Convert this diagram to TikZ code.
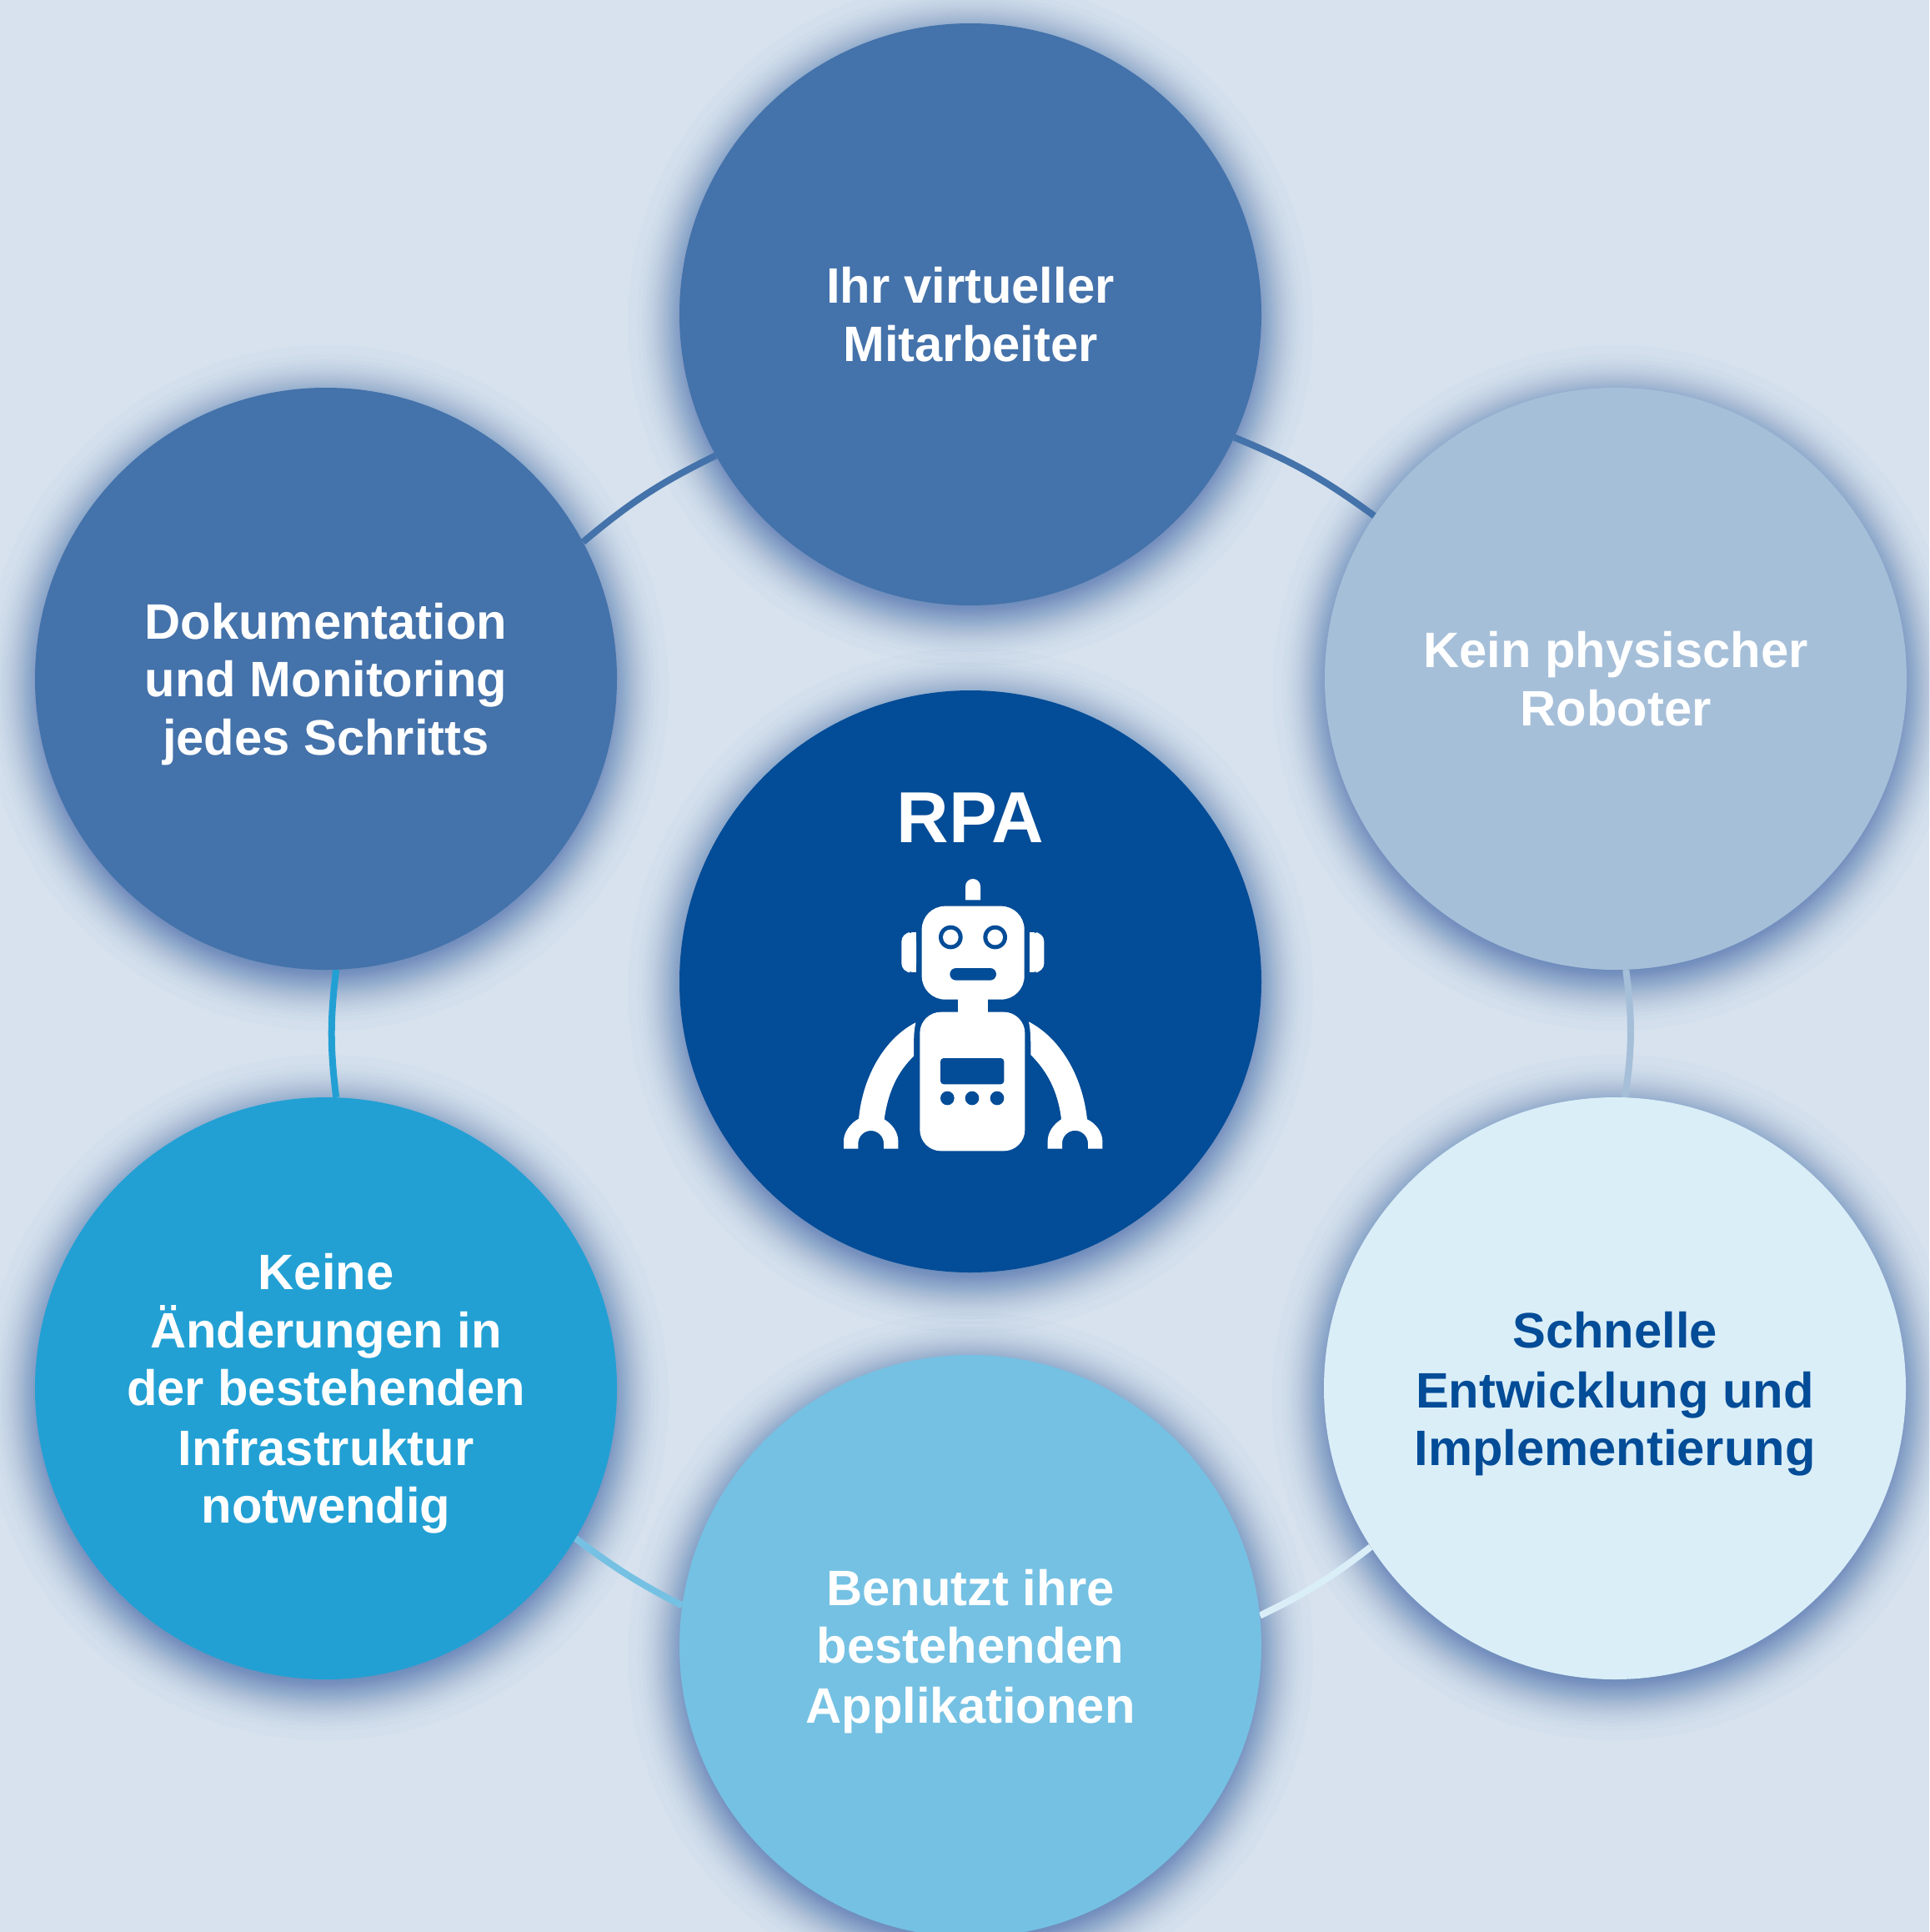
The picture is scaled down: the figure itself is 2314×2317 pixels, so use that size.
\documentclass[tikz,border=0pt]{standalone}
\usepackage{fontspec}
\setmainfont{Liberation Sans}
\definecolor{bgc}{HTML}{D7E2EE}
\definecolor{shc}{HTML}{2F5FA5}
\definecolor{cCenter}{HTML}{034C97}
\definecolor{cMid}{HTML}{4472AA}
\definecolor{cPale}{HTML}{A6BFD9}
\definecolor{cIce}{HTML}{DAEEF8}
\definecolor{cSky}{HTML}{75C1E3}
\definecolor{cCyan}{HTML}{22A0D4}
\pgfdeclarelayer{back}
\pgfsetlayers{back,main}
\tikzset{
  bubble/.style={circle,minimum size=523.5pt,inner sep=0pt,align=center,text=white,
    font=\fontsize{44.8pt}{52pt}\selectfont\bfseries},
  link/.style={line width=6pt},
  robotwhite/.style={fill=white,draw=none},
  robotblue/.style={fill=cCenter,draw=none}
}
\newcommand{\softshadow}[1]{%
  \foreach \k in {1,...,60}{%
    \pgfmathsetmacro{\qq}{(\k-0.5)/60}%
    \pgfmathsetmacro{\rr}{349+26*4.91*(\qq^0.14-(1-\qq)^0.14)}%
    \fill[shc,opacity=.02] ([shift={(0,11)}]#1.center) circle[radius=\rr];
  }%
}
\newcommand{\lowr}{\rule{0pt}{42pt}}
\begin{document}
\begin{tikzpicture}[x=.75pt,y=-.75pt]
\useasboundingbox (0,0) rectangle (2314,2317);
\node[bubble,fill=cCenter] (center) at (1164,1177) {};
\node[bubble,fill=cMid] (top) at (1164,377) {Ihr virtueller\\Mitarbeiter};
\node[bubble,fill=cPale] (ur) at (1938,814) {Kein physischer\\Roboter};
\node[bubble,fill=cIce,text=cCenter] (lr) at (1937,1665) {\lowr Schnelle\\[2pt]Entwicklung und\\Implementierung};
\node[bubble,fill=cSky] (bottom) at (1164,1974) {\lowr Benutzt ihre\\bestehenden\\[2pt]Applikationen};
\node[bubble,fill=cCyan] (ll) at (391,1665) {\lowr Keine\\Änderungen in\\der bestehenden\\[2pt]Infrastruktur\\notwendig};
\node[bubble,fill=cMid] (ul) at (391,814) {\lowr Dokumentation\\und Monitoring\\jedes Schritts};
\node[text=white,inner sep=0pt,font=\fontsize{65pt}{70pt}\selectfont\bfseries] (rpa) at (1164,981) {RPA};
\begin{pgfonlayer}{back}
\fill[bgc] (0,0) rectangle (2314,2317);
\softshadow{center}\softshadow{top}\softshadow{ur}\softshadow{lr}\softshadow{bottom}\softshadow{ll}\softshadow{ul}
\draw[link,cMid] (top.-25.4) to[bend left=7] (ur.146.8);
\draw[link,cPale] (ur.-88.2) to[bend left=8] (lr.88.5);
\draw[link,cIce] (lr.213) to[bend left=6] (bottom.6.2);
\draw[link,cSky] (bottom.172) to[bend left=5] (ll.-31.2);
\draw[link,cCyan] (ll.88) to[bend left=7] (ul.-88.5);
\draw[link,cMid] (ul.28.6) to[bend left=7] (top.209.4);
\end{pgfonlayer}
% robot, drawn in the pixel grid of a 3x crop
\begin{scope}[shift={(950,1000)},x=.25pt,y=-.25pt]
  % antenna
  \fill[robotwhite] (624,238) -- (624,189) arc[start angle=180,end angle=360,radius=27] -- (678,238) -- cycle;
  % ears
  \fill[robotwhite,rounded corners=8pt] (447,355) -- (394,355) -- (394,498) -- (447,498) -- cycle;
  \fill[robotwhite] (430,355) rectangle (447,498);
  \fill[robotwhite,rounded corners=8pt] (855,355) -- (907,355) -- (907,498) -- (855,498) -- cycle;
  \fill[robotwhite] (855,355) rectangle (872,498);
  % head, neck, body
  \fill[robotwhite] (598,590) rectangle (706,650);
  \fill[robotwhite,rounded corners=21pt] (467,260) rectangle (836,596);
  \fill[robotwhite,rounded corners=19pt] (460,641) rectangle (838,1141);
  % eyes and mouth
  \fill[robotblue] (571,372) circle[radius=43];
  \fill[robotwhite] (571,372) circle[radius=28];
  \fill[robotblue] (731,372) circle[radius=43];
  \fill[robotwhite] (731,372) circle[radius=28];
  \fill[robotblue,rounded corners=5.5pt] (568,483) rectangle (735,527);
  % screen and dots
  \fill[robotblue,rounded corners=3pt] (534,807) rectangle (763,901);
  \fill[robotblue] (559,951) circle[radius=25];
  \fill[robotblue] (648,951) circle[radius=25];
  \fill[robotblue] (738,951) circle[radius=25];
  % left arm
  \fill[robotwhite] (445,679) .. controls (438,710) and (438,740) .. (438,800)
    .. controls (380,855) and (345,930) .. (332,1027)
    .. controls (362,1045) and (382,1075) .. (382,1105) -- (382,1133) -- (330,1133) -- (330,1114)
    arc[start angle=0,end angle=-180,radius=46] -- (238,1133) -- (186,1133) -- (186,1105)
    .. controls (186,1075) and (208,1042) .. (240,1025)
    .. controls (255,870) and (335,735) .. (445,679) -- cycle;
  % right arm
  \fill[robotwhite] (852,676) .. controls (859,710) and (859,740) .. (859,795)
    .. controls (920,855) and (958,930) .. (969,1027)
    .. controls (940,1045) and (920,1075) .. (920,1105) -- (920,1133) -- (972,1133) -- (972,1114)
    arc[start angle=180,end angle=360,radius=46.5] -- (1065,1133) -- (1117,1133) -- (1117,1105)
    .. controls (1117,1075) and (1095,1042) .. (1062,1027)
    .. controls (1045,870) and (965,735) .. (852,676) -- cycle;
\end{scope}
\end{tikzpicture}
\end{document}
